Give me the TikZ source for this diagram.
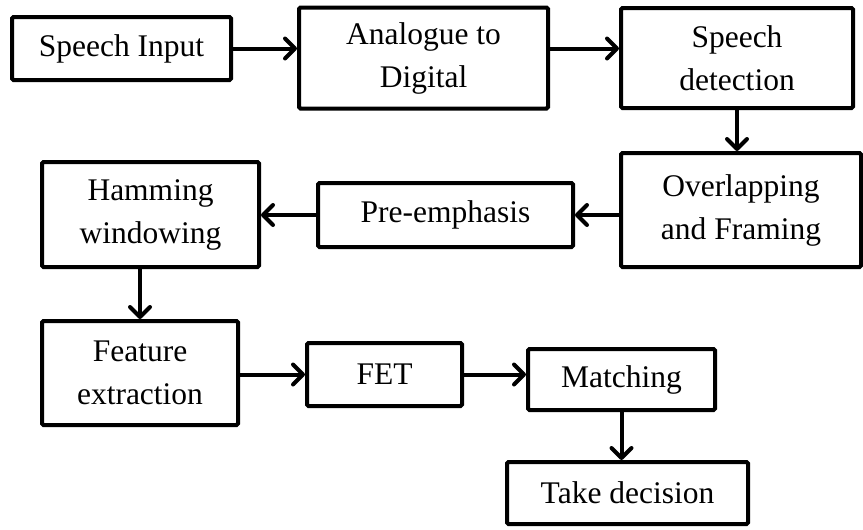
\documentclass[tikz,border=0pt]{standalone}
\usepackage{fontspec}
\setmainfont{Liberation Serif}
\usetikzlibrary{arrows.meta}
\begin{document}
\begin{tikzpicture}[x=1pt,y=-1pt,
  blk/.style={draw=black, line width=4pt, rounded corners=1.5pt, inner sep=0pt,
    align=center, fill=white, font=\fontsize{31.5}{43}\selectfont},
  flow/.style={line width=4pt,
    -{Straight Barb[length=10pt,width=20pt,line cap=round,line join=round]}}
]
\useasboundingbox (0,0) rectangle (863,530);

% first row
\node[blk, minimum width=219pt, minimum height=63pt]  (si)  at (121.5,48.5) {Speech Input};
\node[blk, minimum width=249pt, minimum height=101pt] (ad)  at (423.5,58)   {Analogue to\\Digital};
\node[blk, minimum width=232pt, minimum height=100pt] (sd)  at (737,58)     {Speech\\detection};

% second row
\node[blk, minimum width=240pt, minimum height=114pt] (of)  at (741,210)   {Overlapping\\and Framing};
\node[blk, minimum width=255pt, minimum height=64pt]  (pe)  at (445.5,215)  {Pre-emphasis};
\node[blk, minimum width=217pt, minimum height=105pt] (hw)  at (150.5,214.5) {Hamming\\windowing};

% third row
\node[blk, minimum width=196pt, minimum height=104pt] (fe)  at (140,373)   {Feature\\extraction};
\node[blk, minimum width=155pt, minimum height=63pt]  (fet) at (384.5,374.5) {FET};
\node[blk, minimum width=187pt, minimum height=61pt]  (m)   at (621.5,379.5) {Matching};
\node[blk, minimum width=241pt, minimum height=62pt]  (td)  at (627.5,493)   {Take decision};

% connectors
\draw[flow] (si.east) -- (si.east -| ad.west);
\draw[flow] (ad.east |- si.east) -- (sd.west |- si.east);
\draw[flow] (sd.south) -- (sd.south |- of.north);
\draw[flow] (of.west |- pe.east) -- (pe.east);
\draw[flow] (pe.west) -- (pe.west -| hw.east);
\draw[flow] (hw.south -| fe.north) -- (fe.north);
\draw[flow] (fe.east |- fet.west) -- (fet.west);
\draw[flow] (fet.east) -- (fet.east -| m.west);
\draw[flow] (m.south) -- (m.south |- td.north);
\end{tikzpicture}
\end{document}
